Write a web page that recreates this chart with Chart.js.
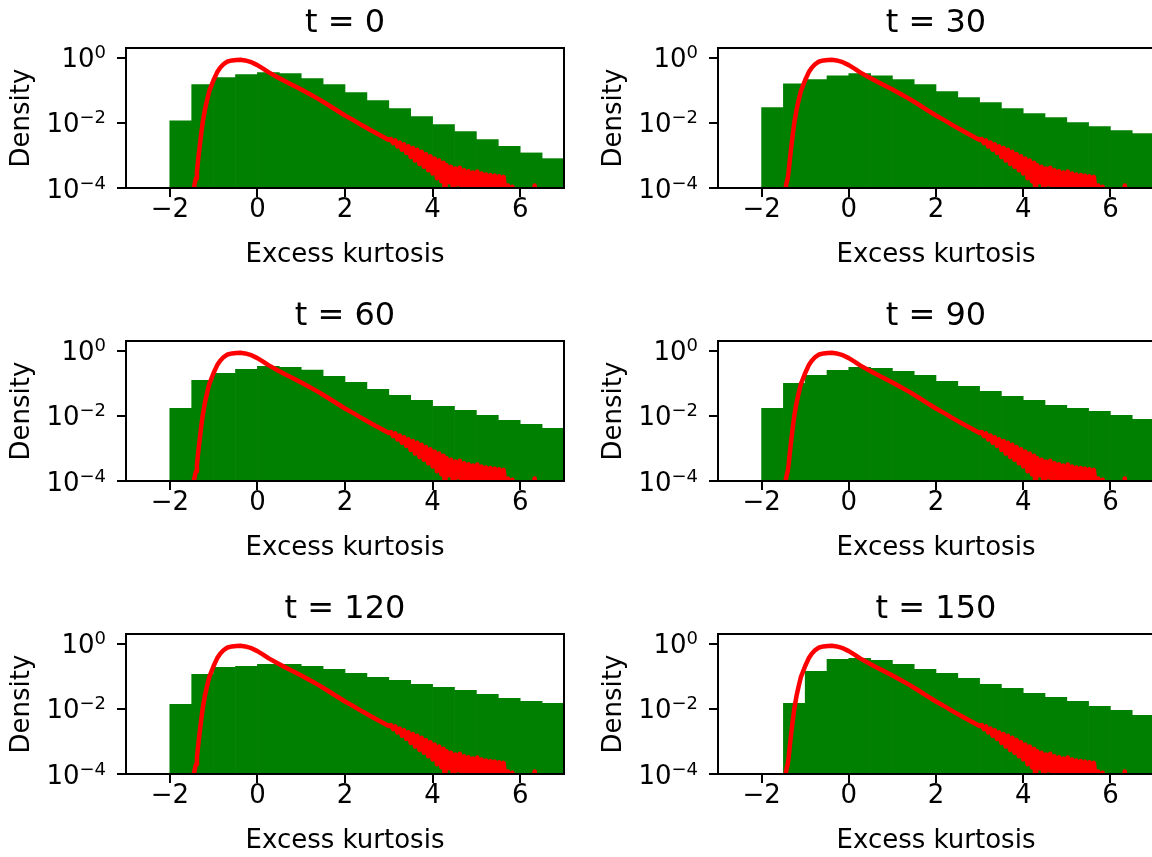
<!DOCTYPE html>
<html>
<head>
<meta charset="utf-8">
<script src="https://cdn.jsdelivr.net/npm/chart.js@4.4.1/dist/chart.umd.min.js"></script>
<style>
  html, body { margin: 0; padding: 0; background: #fff; overflow: hidden; width: 1152px; height: 857px; }
  canvas { position: absolute; }
</style>
</head>
<body>
<canvas id="p0" width="576" height="293" style="left:0px;top:0px"></canvas>
<canvas id="p1" width="576" height="293" style="left:592px;top:0px"></canvas>
<canvas id="p2" width="576" height="293" style="left:0px;top:293px"></canvas>
<canvas id="p3" width="576" height="293" style="left:592px;top:293px"></canvas>
<canvas id="p4" width="576" height="293" style="left:0px;top:586px"></canvas>
<canvas id="p5" width="576" height="293" style="left:592px;top:586px"></canvas>
<script>
// histogram bins (width 0.5, from -2 to 7)
const binCenters = [-1.75, -1.25, -0.75, -0.25, 0.25, 0.75, 1.25, 1.75, 2.25, 2.75, 3.25, 3.75, 4.25, 4.75, 5.25, 5.75, 6.25, 6.75];

const histT0 = [0.0117, 0.151, 0.248, 0.307, 0.354, 0.33, 0.231, 0.151, 0.0857, 0.0486, 0.0276, 0.0157, 0.0089, 0.0054, 0.0031, 0.0019, 0.0012, 0.0008];
const histT30 = [0.0295, 0.161, 0.214, 0.284, 0.328, 0.284, 0.214, 0.151, 0.0916, 0.060, 0.042, 0.0275, 0.0193, 0.0146, 0.0102, 0.0077, 0.0058, 0.0047];
const histT60 = [0.0172, 0.125, 0.205, 0.272, 0.336, 0.313, 0.259, 0.166, 0.108, 0.066, 0.043, 0.0303, 0.0198, 0.0149, 0.0104, 0.0073, 0.0055, 0.0042];
const histT90 = [0.0172, 0.1007, 0.177, 0.253, 0.313, 0.292, 0.236, 0.177, 0.116, 0.0815, 0.0571, 0.0402, 0.0303, 0.0212, 0.0172, 0.0139, 0.0104, 0.0079];
const histT120 = [0.0139, 0.116, 0.1905, 0.205, 0.236, 0.236, 0.205, 0.166, 0.125, 0.094, 0.0759, 0.0571, 0.0462, 0.0374, 0.0282, 0.0212, 0.0172, 0.0149];
const histT150 = [null, 0.0149, 0.1435, 0.336, 0.3605, 0.313, 0.236, 0.166, 0.125, 0.0875, 0.0571, 0.043, 0.0303, 0.0228, 0.0172, 0.012, 0.0091, 0.0064];

// red reference density (same in every panel)
const curveX = [-1.47, -1.45, -1.42, -1.40, -1.38, -1.35, -1.32, -1.28, -1.25, -1.20, -1.15, -1.10, -1.05, -1.00, -0.92, -0.85, -0.77, -0.68, -0.58, -0.48, -0.39, -0.28, -0.16, 0.00, 0.13, 0.26, 0.45, 0.62, 0.80, 0.98, 1.20, 1.40, 1.60, 1.80, 2.00, 2.20, 2.40, 2.60, 2.80, 3.00,
  3.05, 3.10, 3.15, 3.20, 3.25, 3.30, 3.35, 3.40, 3.45, 3.50, 3.55, 3.60, 3.65, 3.70, 3.75, 3.80, 3.85, 3.90, 3.95, 4.00,
  4.05, 4.10, 4.15, 4.20, 4.25, 4.28, 4.32, 4.38, 4.42, 4.48, 4.52, 4.58, 4.62, 4.68, 4.72, 4.78, 4.82, 4.88, 4.92, 4.98,
  5.02, 5.08, 5.12, 5.18, 5.22, 5.28, 5.32, 5.38, 5.42, 5.48, 5.52, 5.58, 5.62, 5.68, 5.72, 5.78, 5.82, 5.88, 6.30, 6.33, 6.36];
const curveY = [0.00005, 0.0001, 0.00016, 0.0002, 0.00032, 0.00079, 0.0018, 0.005, 0.01, 0.025, 0.05, 0.095, 0.14, 0.21, 0.36, 0.50, 0.65, 0.78, 0.84, 0.87, 0.875, 0.84, 0.76, 0.60, 0.47, 0.36, 0.26, 0.195, 0.148, 0.11, 0.076, 0.054, 0.037, 0.025, 0.017, 0.012, 0.0083, 0.0059, 0.0042, 0.0030,
  0.0032, 0.0024, 0.0029, 0.0019, 0.0025, 0.0015, 0.0022, 0.0012, 0.0019, 0.0009, 0.0017, 0.0007, 0.0015, 0.00055, 0.0013, 0.00045, 0.0011, 0.00035, 0.00095, 0.00028,
  0.0008, 0.0002, 0.0007, 0.00016, 0.0006, 0.00005, 0.0005, 0.00015, 0.00045, 0.00005, 0.0004, 0.00013, 0.00042, 0.00005, 0.00035, 0.00012, 0.00033, 0.00005, 0.0003, 0.00012,
  0.00032, 0.00005, 0.00028, 0.00012, 0.00026, 0.00005, 0.00025, 0.00011, 0.00024, 0.00005, 0.00023, 0.00011, 0.00022, 0.00005, 0.00012, 0.00005, 0.00011, 0.00005, 0.00005, 0.00012, 0.00005];

const panelTitles = ['t = 0', 't = 30', 't = 60', 't = 90', 't = 120', 't = 150'];
const panelHists = [histT0, histT30, histT60, histT90, histT120, histT150];

const xTickValues = [-2, 0, 2, 4, 6];
const xTickLabels = ['\u22122', '0', '2', '4', '6'];
const yTickValues = [1e-4, 1e-2, 1];
const yTickBases = ['10', '10', '10'];
const yTickExponents = ['\u22124', '\u22122', '0'];

const FONT = '"DejaVu Sans", sans-serif';
Chart.defaults.font.family = FONT;
Chart.defaults.color = '#000';

// matplotlib-like box around the axes
const frame = {
  id: 'frame',
  afterDatasetsDraw(chart) {
    const {ctx, chartArea: a} = chart;
    ctx.save();
    ctx.strokeStyle = '#000';
    ctx.lineWidth = 2;
    ctx.strokeRect(a.left, a.top, a.right - a.left, a.bottom - a.top);
    ctx.restore();
  }
};

// y tick labels as 10 with a raised exponent
const yLabels = {
  id: 'yLabels',
  afterDraw(chart) {
    const {ctx} = chart;
    const scale = chart.scales.y;
    const right = chart.chartArea.left - 20;
    ctx.save();
    ctx.fillStyle = '#000';
    ctx.textAlign = 'left';
    ctx.textBaseline = 'alphabetic';
    yTickValues.forEach((v, i) => {
      const py = scale.getPixelForValue(v);
      ctx.font = '18px ' + FONT;
      const ew = ctx.measureText(yTickExponents[i]).width;
      ctx.font = '26px ' + FONT;
      const bw = ctx.measureText(yTickBases[i]).width;
      const x0 = right - ew - bw;
      ctx.fillText(yTickBases[i], x0, py + 9.5);
      ctx.font = '18px ' + FONT;
      ctx.fillText(yTickExponents[i], x0 + bw, py + 0.5);
    });
    ctx.restore();
  }
};

const makePanel = (id, title, hist, rightPad) => {
  const bars = binCenters
    .map((x, i) => ({x, y: hist[i]}))
    .filter((p) => p.y !== null);
  const curve = curveX.map((x, i) => ({x, y: curveY[i]}));

  return new Chart(document.getElementById(id), {
    type: 'bar',
    data: {
      datasets: [
        {
          type: 'line',
          data: curve,
          borderColor: 'red',
          borderWidth: 4.5,
          borderJoinStyle: 'round',
          borderCapStyle: 'round',
          pointRadius: 0,
          tension: 0,
          clip: 0,
          order: 0,
        },
        {
          type: 'bar',
          data: bars,
          backgroundColor: 'green',
          borderWidth: 0,
          barPercentage: 1,
          categoryPercentage: 1,
          order: 1,
        },
      ]
    },
    options: {
      responsive: false,
      animation: false,
      events: [],
      layout: {padding: {left: 0, right: rightPad, top: 0, bottom: 0}},
      plugins: {
        legend: {display: false},
        tooltip: {enabled: false},
        title: {
          display: true,
          fullSize: false,
          text: title,
          color: '#000',
          font: {size: 32, weight: 'normal'},
          padding: {top: 4, bottom: 5.6},
        },
      },
      scales: {
        x: {
          type: 'linear',
          min: -3,
          max: 7,
          offset: false,
          afterBuildTicks: (s) => { s.ticks = xTickValues.map((v) => ({value: v})); },
          afterFit: (s) => { s.height = 105; },
          ticks: {
            callback: (v, i) => xTickLabels[i],
            font: {size: 26, lineHeight: 1},
            padding: 0,
            maxRotation: 0,
            autoSkip: false,
          },
          grid: {offset: false, drawOnChartArea: false, tickLength: 9, color: '#000', lineWidth: 2},
          border: {display: false},
          title: {display: true, text: 'Excess kurtosis', font: {size: 26}, padding: {top: 0, bottom: 22}},
        },
        y: {
          type: 'logarithmic',
          min: 1e-4,
          max: 2.02,
          afterBuildTicks: (s) => { s.ticks = yTickValues.map((v) => ({value: v})); },
          afterFit: (s) => { s.width = 126; },
          ticks: {
            callback: () => '',
            autoSkip: false,
          },
          grid: {drawOnChartArea: false, tickLength: 9, color: '#000', lineWidth: 2},
          border: {display: false},
          title: {display: true, text: 'Density', font: {size: 26}, padding: {top: 7, bottom: 0}},
        },
      },
    },
    plugins: [frame, yLabels],
  });
};

panelTitles.forEach((t, i) => {
  makePanel('p' + i, t, panelHists[i], i % 2 === 0 ? 12 : 14);
});
</script>
</body>
</html>
